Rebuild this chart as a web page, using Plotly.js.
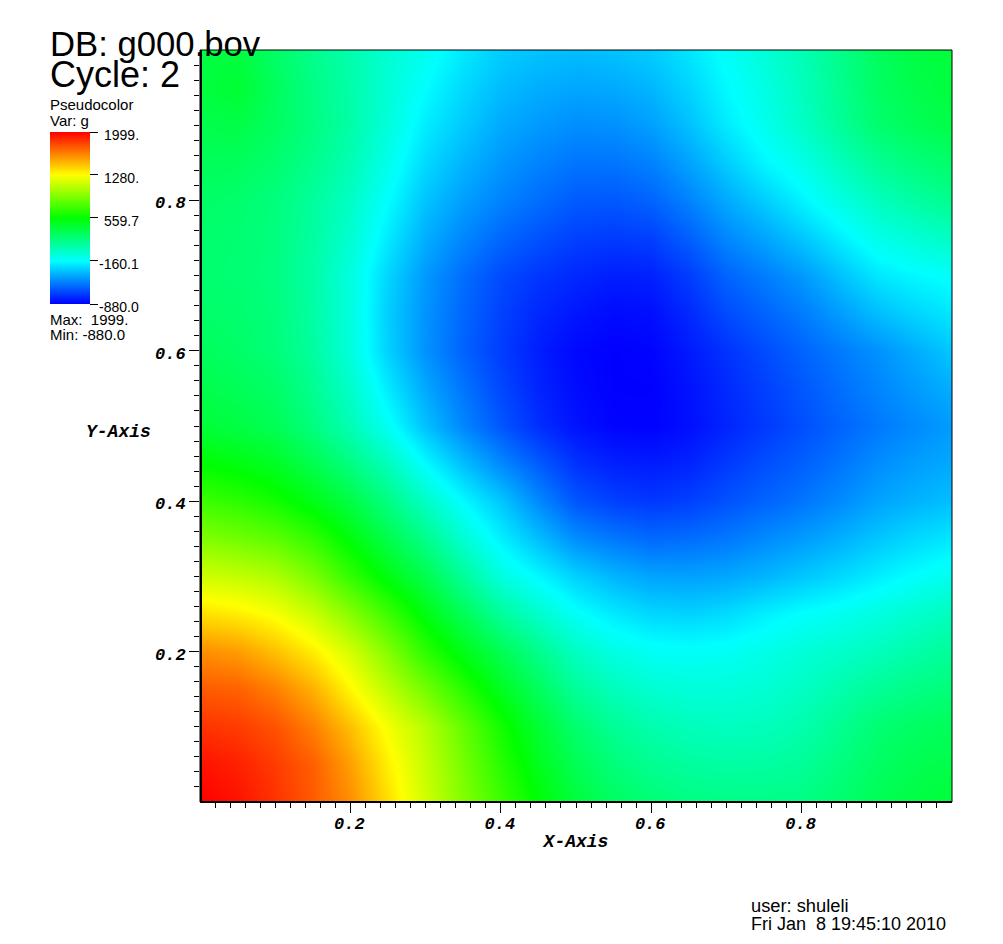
<!DOCTYPE html>
<html>
<head>
<meta charset="utf-8">
<script src="https://cdn.plot.ly/plotly-3.0.1.min.js"></script>
<style>html,body{margin:0;padding:0;background:#fff}</style>
</head>
<body>
<div id="chart" style="width:1003px;height:944px"></div>
<script>
var xValues = [0,0.05,0.1,0.15,0.2,0.25,0.3,0.35,0.4,0.45,0.5,0.55,0.6,0.65,0.7,0.75,0.8,0.85,0.9,0.95,1];
var yValues = [0,0.05,0.1,0.15,0.2,0.25,0.3,0.35,0.4,0.45,0.5,0.55,0.6,0.65,0.7,0.75,0.8,0.85,0.9,0.95,1];
var gValues = [
 [1999,1950,1860,1745,1600,1370,1140, 930, 730, 550, 390, 290, 230, 195, 180, 180, 190, 250, 320, 370, 400],
 [1950,1910,1830,1730,1550,1320,1110, 890, 670, 480, 320, 215, 150, 115, 100, 105, 130, 200, 280, 330, 355],
 [1860,1830,1770,1640,1460,1250,1070, 840, 610, 420, 250, 140,  70,  35,  20,  30,  70, 150, 240, 285, 310],
 [1745,1725,1640,1500,1300,1090, 880, 670, 470, 300, 130,  30, -30, -55, -55, -35,  10,  70, 135, 185, 220],
 [1600,1560,1460,1330,1160, 930, 680, 500, 330, 170,  10, -80,-130,-140,-130, -95, -50, -10,  30,  85, 135],
 [1370,1330,1260,1130, 940, 730, 510, 320, 130, -10,-140,-220,-270,-285,-260,-205,-155,-120, -70, -20,  30],
 [1140,1110,1050, 900, 700, 510, 340, 130, -70,-180,-290,-370,-420,-425,-410,-370,-320,-270,-210,-155,-110],
 [ 930, 880, 820, 700, 530, 350, 170, -30,-200,-340,-480,-540,-580,-570,-540,-490,-440,-385,-320,-265,-225],
 [ 730, 680, 610, 500, 370, 190,   0,-170,-320,-490,-640,-700,-725,-700,-650,-600,-550,-490,-420,-375,-340],
 [ 555, 520, 460, 340, 200,  30,-170,-340,-490,-620,-740,-790,-805,-780,-720,-660,-610,-550,-480,-435,-400],
 [ 400, 370, 320, 200,  50,-130,-340,-500,-640,-750,-830,-870,-875,-840,-780,-720,-660,-600,-540,-490,-440],
 [ 345, 315, 270, 150, -10,-220,-410,-550,-680,-780,-850,-880,-880,-830,-765,-700,-635,-570,-505,-445,-385],
 [ 305, 270, 220, 110, -60,-290,-470,-600,-710,-800,-860,-880,-870,-810,-740,-670,-600,-535,-470,-395,-315],
 [ 270, 250, 210, 100, -65,-300,-465,-590,-695,-770,-820,-850,-840,-765,-670,-600,-530,-440,-345,-280,-225],
 [ 250, 235, 200,  90, -70,-280,-450,-570,-670,-730,-770,-800,-790,-710,-600,-530,-450,-340,-230,-180,-145],
 [ 260, 240, 205, 105, -30,-220,-390,-500,-590,-650,-700,-715,-700,-610,-500,-415,-320,-210,-100, -40,  10],
 [ 280, 255, 210, 120,   5,-160,-330,-430,-510,-570,-625,-630,-600,-510,-400,-300,-190, -80,  25, 100, 165],
 [ 310, 300, 250, 165,  55,-105,-270,-370,-455,-510,-550,-550,-515,-420,-305,-185, -95,  25, 140, 210, 265],
 [ 340, 360, 290, 200,  90, -60,-215,-310,-400,-445,-480,-470,-430,-335,-215,-110,   0, 125, 250, 315, 360],
 [ 380, 420, 300, 185,  85, -45,-165,-265,-350,-390,-410,-400,-365,-280,-175, -80,  25, 150, 280, 345, 385],
 [ 370, 380, 270, 165,  70, -30,-120,-220,-300,-330,-345,-330,-300,-230,-140, -50,  50, 170, 300, 370, 395]
];
var colorStops = [[0,'#0000ff'],[0.25,'#00ffff'],[0.5,'#00ff00'],[0.75,'#ffff00'],[1,'#ff0000']];
var legendValues = [-880,-160.1,559.7,1280,1999];
var legendLabels = ['-880.0','-160.1','559.7','1280.','1999.'];
var axisTicks = [0.2,0.4,0.6,0.8];
var axisLabels = ['0.2','0.4','0.6','0.8'];
var minorTicks = [];
for (var i = 1; i < 50; i++) { minorTicks.push(i / 50); }

var W = 752, H = 752, L = 200, T = 50;
function px(x){ return (x - L) / W; }
function py(y){ return 1 - (y - T) / H; }
function note(text, x, y, size, anchor){
  return {text:text, x:px(x), y:py(y), xref:'paper', yref:'paper', xanchor:anchor||'left', yanchor:'middle',
    showarrow:false, font:{family:'Liberation Sans', size:size, color:'#000'}};
}
var monoFont = {family:'Liberation Mono', size:18, color:'#000', weight:'bold', style:'italic'};
var tickFontMono = {family:'Liberation Mono', size:17, color:'#000', weight:'bold', style:'italic'};
var axisBase = {range:[0,1], tickmode:'array', tickvals:axisTicks, ticktext:axisLabels, ticks:'outside', ticklen:10, tickwidth:1,
  tickcolor:'#000', showgrid:false, zeroline:false, showline:false, tickfont:tickFontMono,
  minor:{tickmode:'array', tickvals:minorTicks, ticks:'outside', ticklen:5, tickwidth:1, tickcolor:'#000', showgrid:false}};

var trace = {type:'heatmap', x:xValues, y:yValues, z:gValues, zmin:-880, zmax:1999, zsmooth:'best', colorscale:colorStops,
  hoverinfo:'skip',
  colorbar:{x:px(50), xanchor:'left', xpad:0, ypad:0, y:py(304), yanchor:'bottom', lenmode:'pixels', len:172, thicknessmode:'pixels', thickness:40,
    outlinewidth:0, tickmode:'array', tickvals:legendValues, ticks:'outside', ticklen:8, tickwidth:1, tickcolor:'#000', showticklabels:false}};

var notes = [
  note('DB: g000.bov', 48, 44, 34.7),
  note('Cycle: 2', 48, 75, 36),
  note('Pseudocolor', 48, 105, 15),
  note('Var: g', 48, 120, 15),
  note('Max:  1999.', 48, 319, 15),
  note('Min: -880.0', 48, 335, 15),
  note('user: shuleli', 749, 905, 18.3),
  note('Fri Jan\u00a0\u00a08 19:45:10 2010', 749, 924, 18),
  {text:'Y-Axis', x:px(118.5), y:py(432), xref:'paper', yref:'paper', xanchor:'center', yanchor:'middle', showarrow:false, font:monoFont}
];
legendValues.forEach(function(v, k){
  notes.push(note(legendLabels[k], 141, 304 - (v + 880) / 2879 * 172 + 3, 14, 'right'));
});

var layout = {width:1003, height:944, margin:{l:200, r:51, t:50, b:142, autoexpand:false}, paper_bgcolor:'#fff', plot_bgcolor:'#fff',
  font:{family:'Liberation Sans', color:'#000'},
  xaxis:Object.assign({}, axisBase, {ticklabelstandoff:-4, ticklabelshift:-1, title:{text:'X-Axis', font:monoFont, standoff:0}}),
  yaxis:Object.assign({}, axisBase, {ticklabelshift:2}),
  shapes:[
    {type:'rect', xref:'paper', yref:'paper', x0:0, x1:1, y0:0, y1:1, line:{color:'#000', width:1}},
    {type:'line', xref:'paper', yref:'paper', x0:1/W, x1:1/W, y0:0, y1:1, line:{color:'#000', width:2}},
    {type:'line', xref:'paper', yref:'paper', x0:0, x1:1, y0:0, y1:0, line:{color:'#000', width:2}}
  ],
  annotations:notes};
Plotly.newPlot('chart', [trace], layout, {displayModeBar:false, responsive:false});
</script>
</body>
</html>
